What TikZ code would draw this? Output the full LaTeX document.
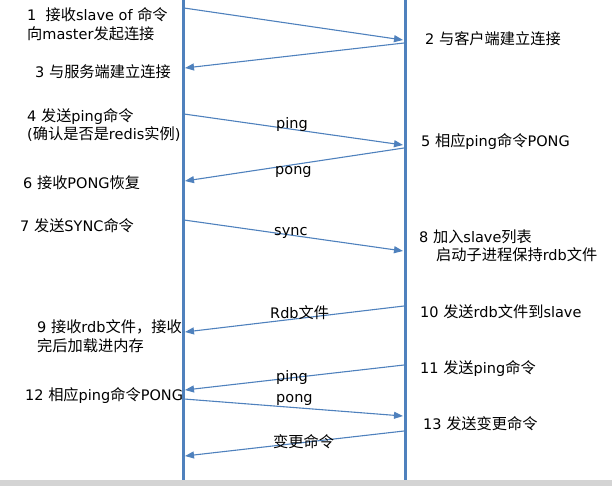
\documentclass[tikz,border=0pt]{standalone}
\usepackage{fontspec}
\setmainfont{DejaVu Sans}
\newfontfamily\cjkfont{Noto Sans CJK SC}[Scale=1.05]
\usetikzlibrary{arrows.meta}

% Chinese characters are set in the CJK font, the rest in DejaVu Sans
\newXeTeXintercharclass\cjkclass
\count255="3000
\loop
  \XeTeXcharclass\count255=\cjkclass
  \ifnum\count255<"9FFF \advance\count255 by 1 \repeat
\XeTeXcharclass"FF0C=\cjkclass
\XeTeXinterchartokenstate=1
\XeTeXinterchartoks 0 \cjkclass = {\cjkfont}
\XeTeXinterchartoks 4095 \cjkclass = {\cjkfont}
\XeTeXinterchartoks \cjkclass 0 = {\rmfamily}

\definecolor{lineblue}{RGB}{79,129,189}
\tikzset{
  lifeline/.style={draw=lineblue, line width=3pt},
  msg/.style={draw=lineblue, line width=1.1pt, -{Triangle[length=9pt,width=7pt]}},
  note/.style={anchor=west, inner sep=0pt, align=left, font=\fontsize{14.5}{18.5}\selectfont},
  msgtag/.style={note},
}

\begin{document}
\begin{tikzpicture}[x=1pt,y=-1pt]
        \useasboundingbox (0,0) rectangle (612,486);
        \fill[black!17] (0,480) rectangle (612,486);
        % the two ends
        \coordinate (slavetop) at (183,0);
        \coordinate (slavebot) at (183,480);
        \coordinate (mastertop) at (405,0);
        \coordinate (masterbot) at (405,480);
        \draw[lifeline] (slavetop) -- (slavebot);
        \draw[lifeline] (mastertop) -- (masterbot);

        % where the messages leave and arrive
        \coordinate (s1) at (184,8);   \coordinate (m1) at (403,40);
        \coordinate (m2) at (404,43);  \coordinate (s2) at (185,68);
        \coordinate (s3) at (184,114); \coordinate (m3) at (403,145);
        \coordinate (m4) at (404,148); \coordinate (s4) at (185,181);
        \coordinate (s5) at (184,220); \coordinate (m5) at (403,251);
        \coordinate (m6) at (404,306); \coordinate (s6) at (185,332);
        \coordinate (m7) at (404,365); \coordinate (s7) at (185,390);
        \coordinate (s8) at (184,399); \coordinate (m8) at (403,416);
        \coordinate (m9) at (404,431); \coordinate (s9) at (185,456);

        \draw[msg] (s1) -- (m1);
        \draw[msg] (m2) -- (s2);
        \draw[msg] (s3) -- (m3);
        \draw[msg] (m4) -- (s4);
        \draw[msg] (s5) -- (m5);
        \draw[msg] (m6) -- (s6);
        \draw[msg] (m7) -- (s7);
        \draw[msg] (s8) -- (m8);
        \draw[msg] (m9) -- (s9);

        % labels on the messages
        \node[msgtag] (ping1) at (276,125) {ping};
        \node[msgtag] (pong1) at (275,172) {pong};
        \node[msgtag] (sync) at (274,233) {sync};
        \node[msgtag] (rdb) at (270,313) {Rdb文件};
        \node[msgtag] (ping2) at (276,377) {ping};
        \node[msgtag] (pong2) at (276,400) {pong};
        \node[msgtag] (change) at (273,442) {变更命令};

        % slave side
        \node[note] (st1) at (27,24) {1~~接收slave of 命令\\向master发起连接};
        \node[note] (st3) at (35,72) {3 与服务端建立连接};
        \node[note] (st4) at (27,125) {4 发送ping命令\\(确认是否是redis实例)};
        \node[note] (st6) at (23,183) {6 接收PONG恢复};
        \node[note] (st7) at (20,226) {7 发送SYNC命令};
        \node[note] (st9) at (37,336) {9 接收rdb文件，接收\\完后加载进内存};
        \node[note] (st12) at (25,396) {12 相应ping命令PONG};

        % master side
        \node[note] (mt2) at (425,39) {2 与客户端建立连接};
        \node[note] (mt5) at (421,142) {5 相应ping命令PONG};
        \node[note] (mt8) at (419,237) {8 加入slave列表};
        \node[note] (mt8b) at (436,255) {启动子进程保持rdb文件};
        \node[note] (mt10) at (420,312) {10 发送rdb文件到slave};
        \node[note] (mt11) at (420,369) {11 发送ping命令};
        \node[note] (mt13) at (423,424) {13 发送变更命令};
      \end{tikzpicture}
\end{document}
